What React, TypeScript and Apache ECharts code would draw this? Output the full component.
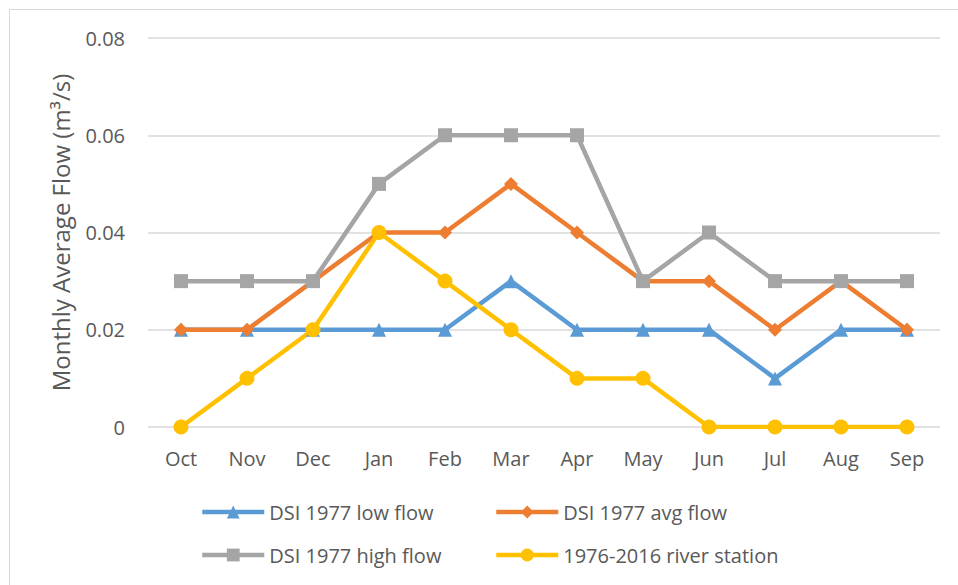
import React, { useEffect, useRef } from "react";
import * as echarts from "echarts";

const months = ["Oct", "Nov", "Dec", "Jan", "Feb", "Mar", "Apr", "May", "Jun", "Jul", "Aug", "Sep"];
const lowFlow = [0.02, 0.02, 0.02, 0.02, 0.02, 0.03, 0.02, 0.02, 0.02, 0.01, 0.02, 0.02];
const avgFlow = [0.02, 0.02, 0.03, 0.04, 0.04, 0.05, 0.04, 0.03, 0.03, 0.02, 0.03, 0.02];
const highFlow = [0.03, 0.03, 0.03, 0.05, 0.06, 0.06, 0.06, 0.03, 0.04, 0.03, 0.03, 0.03];
const riverStation = [0, 0.01, 0.02, 0.04, 0.03, 0.02, 0.01, 0.01, 0, 0, 0, 0];
const yTicks = [0, 0.02, 0.04, 0.06, 0.08];

const FONT = "Open Sans";

export default function App() {
  const ref = useRef<HTMLDivElement>(null);
  useEffect(() => {
    const chart = echarts.init(ref.current!, null, { renderer: "svg" });
    const seriesDefs = [
      { name: "DSI 1977 low flow", data: lowFlow, color: "#5B9BD5", symbol: "triangle", size: 14 },
      { name: "DSI 1977 avg flow", data: avgFlow, color: "#ED7D31", symbol: "diamond", size: 14 },
      { name: "DSI 1977 high flow", data: highFlow, color: "#A5A5A5", symbol: "rect", size: 14 },
      { name: "1976-2016 river station", data: riverStation, color: "#FFC000", symbol: "circle", size: 15 },
    ];
    const legendPos = [
      { left: 200, top: 502 },
      { left: 494, top: 502 },
      { left: 200, top: 545 },
      { left: 494, top: 545 },
    ];
    chart.setOption({
      animation: false,
      backgroundColor: "#ffffff",
      textStyle: { fontFamily: FONT },
      graphic: [
        {
          type: "rect",
          shape: { x: 9.5, y: 9.5, width: 960, height: 600 },
          style: { fill: "none", stroke: "#D9D9D9", lineWidth: 1 },
          silent: true,
        },
      ],
      grid: { left: 148, right: 18, top: 38, bottom: 158 },
      legend: seriesDefs.map((s, i) => ({
        data: [s.name],
        left: legendPos[i].left,
        top: legendPos[i].top,
        itemWidth: 62,
        itemHeight: 16,
        itemGap: 0,
        padding: 0,
        lineStyle: { width: 4.5 },
        textStyle: { fontFamily: FONT, fontSize: 20, color: "#595959", padding: [0, 0, 0, 0] },
      })),
      xAxis: {
        type: "category",
        data: months,
        boundaryGap: true,
        axisLine: { show: false },
        axisTick: { show: false },
        axisLabel: { fontFamily: FONT, fontSize: 20, color: "#595959", margin: 21 },
      },
      yAxis: {
        type: "value",
        min: yTicks[0],
        max: yTicks[yTicks.length - 1],
        interval: 0.02,
        axisLine: { show: false },
        axisTick: { show: false },
        splitLine: { lineStyle: { color: "#D9D9D9", width: 1.5 } },
        axisLabel: {
          fontFamily: FONT,
          fontSize: 20,
          color: "#595959",
          margin: 23,
          formatter: (v: number) => (v === 0 ? "0" : v.toFixed(2)),
        },
        name: "Monthly Average Flow (m³/s)",
        nameLocation: "middle",
        nameGap: 76,
        nameTextStyle: { fontFamily: FONT, fontSize: 24, color: "#595959" },
      },
      series: seriesDefs.map((s) => ({
        name: s.name,
        type: "line",
        data: s.data,
        symbol: s.symbol,
        symbolSize: s.size,
        itemStyle: { color: s.color },
        lineStyle: { color: s.color, width: 4.5 },
      })),
    });
    return () => chart.dispose();
  }, []);
  return <div ref={ref} style={{ width: 958, height: 585, position: "absolute", left: 0, top: 0 }} />;
}
